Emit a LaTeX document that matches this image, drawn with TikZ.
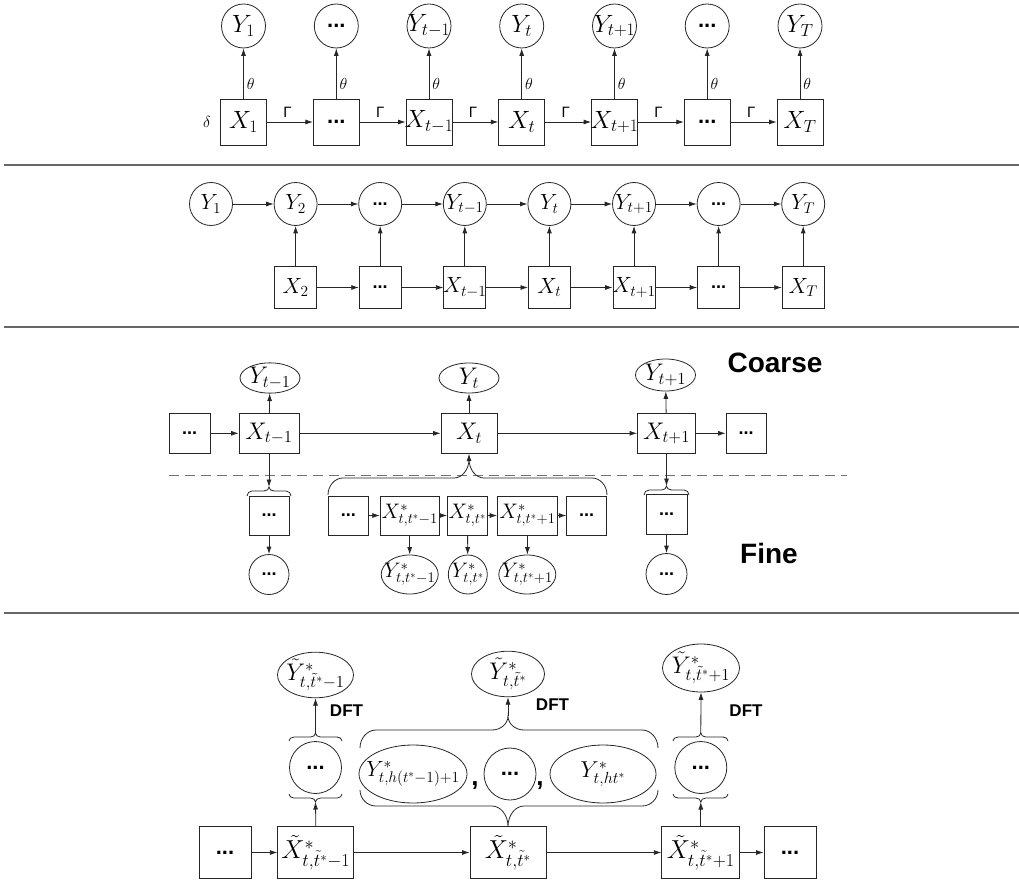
\RequirePackage{fix-cm}
\documentclass[tikz,border=0pt]{standalone}
\usepackage{fontspec}
\newfontfamily\arial{Liberation Sans}
\usetikzlibrary{arrows.meta,shapes.geometric}
\newcommand\dts{{\arial\bfseries ...}}
% brace: x1 x2 xm yb yh yt r
\newcommand\mybrace[7]{%
  \draw[brc] (#1,#4) .. controls (#1,{#4+0.55*(#5-#4)}) and ({#1+0.45*#7},#5) .. ({#1+#7},#5)
   -- ({#3-#7},#5) .. controls ({#3-0.45*#7},#5) and (#3,{#5+0.45*(#6-#5)}) .. (#3,#6)
   .. controls (#3,{#5+0.45*(#6-#5)}) and ({#3+0.45*#7},#5) .. ({#3+#7},#5)
   -- ({#2-#7},#5) .. controls ({#2-0.45*#7},#5) and (#2,{#4+0.55*(#5-#4)}) .. (#2,#4);}
\tikzset{
  base/.style={draw=black!85, line width=0.8pt, inner sep=0pt,
     execute at begin node={\hbox to 0pt\bgroup\hss},
     execute at end node={\hss\egroup}},
  circ/.style={base, circle},
  elli/.style={base, ellipse},
  sq/.style={base, rectangle},
  arr/.style={-{Latex[length=7.5pt,width=5pt]}, line width=0.8pt, draw=black!85},
  brc/.style={line width=0.8pt, draw=black!85},
  fa/.style={font=\fontsize{25}{27}\selectfont},
  fb/.style={font=\fontsize{22}{24}\selectfont},
  fc/.style={font=\fontsize{24}{26}\selectfont},
  ff/.style={font=\fontsize{21}{23}\selectfont},
  fd/.style={font=\fontsize{26}{28}\selectfont},
  dta/.style={font=\fontsize{22}{24}\selectfont},
  dtb/.style={font=\fontsize{18}{20}\selectfont},
  lbl/.style={font=\fontsize{16}{18}\selectfont, inner sep=1pt},
  sepline/.style={draw=black!60, line width=1.5pt},
  big/.style={font=\arial\bfseries\fontsize{28}{30}\selectfont},
  dft/.style={font=\arial\bfseries\fontsize{17}{19}\selectfont},
}
\begin{document}
\begin{tikzpicture}[x=1pt,y=-1pt]
\useasboundingbox (0,0) rectangle (1019,882);
% ---------------- section 1 ----------------
\begin{scope}[every node/.append style={fa}]
\node[circ,minimum size=44pt] (a1) at (243.5,26) {$Y_1$};
\node[circ,minimum size=44pt,dta] (a2) at (336.3,26) {\dts};
\node[circ,minimum size=44pt] (a3) at (429,26) {$Y_{t-1}$};
\node[circ,minimum size=44pt] (a4) at (521.7,26) {$Y_t$};
\node[circ,minimum size=44pt] (a5) at (614.5,26) {$Y_{t+1}$};
\node[circ,minimum size=44pt,dta] (a6) at (707.2,26) {\dts};
\node[circ,minimum size=44pt] (a7) at (800,26) {$Y_T$};
\node[sq,minimum size=46pt] (b1) at (243.5,122) {$X_1$};
\node[sq,minimum size=46pt,dta] (b2) at (336.3,122) {\dts};
\node[sq,minimum size=46pt] (b3) at (429,122) {$X_{t-1}$};
\node[sq,minimum size=46pt] (b4) at (521.7,122) {$X_t$};
\node[sq,minimum size=46pt] (b5) at (614.5,122) {$X_{t+1}$};
\node[sq,minimum size=46pt,dta] (b6) at (707.2,122) {\dts};
\node[sq,minimum size=46pt] (b7) at (800,122) {$X_T$};
\end{scope}
\node[lbl] (delta) at (207,122) {$\delta$};
\foreach \i in {1,...,7}{
  \draw[arr] (b\i) -- node[lbl,right=2pt,pos=0.3] {$\theta$} (a\i);
}
\foreach \i/\j in {1/2,2/3,3/4,4/5,5/6,6/7}{
  \draw[arr] (b\i) -- node[lbl,above=3pt,pos=0.45,font=\arial\fontsize{15}{17}\selectfont] {Γ} (b\j);
}
\draw[sepline] (4,165) -- (1019,165);
% ---------------- section 2 ----------------
\begin{scope}[every node/.append style={fb}]
\node[circ,minimum size=43pt] (c1) at (211,204) {$Y_1$};
\node[circ,minimum size=43pt] (c2) at (295.6,204) {$Y_2$};
\node[circ,minimum size=43pt,dtb] (c3) at (380.2,204) {\dts};
\node[circ,minimum size=43pt] (c4) at (464.8,204) {$Y_{t-1}$};
\node[circ,minimum size=43pt] (c5) at (549.4,204) {$Y_t$};
\node[circ,minimum size=43pt] (c6) at (634,204) {$Y_{t+1}$};
\node[circ,minimum size=43pt,dtb] (c7) at (718.6,204) {\dts};
\node[circ,minimum size=43pt] (c8) at (803.2,204) {$Y_T$};
\node[sq,minimum size=42pt] (d2) at (295.6,287.5) {$X_2$};
\node[sq,minimum size=42pt,dtb] (d3) at (380.2,287.5) {\dts};
\node[sq,minimum size=42pt] (d4) at (464.8,287.5) {$X_{t-1}$};
\node[sq,minimum size=42pt] (d5) at (549.4,287.5) {$X_t$};
\node[sq,minimum size=42pt] (d6) at (634,287.5) {$X_{t+1}$};
\node[sq,minimum size=42pt,dtb] (d7) at (718.6,287.5) {\dts};
\node[sq,minimum size=42pt] (d8) at (803.2,287.5) {$X_T$};
\end{scope}
\foreach \i/\j in {1/2,2/3,3/4,4/5,5/6,6/7,7/8}{ \draw[arr] (c\i) -- (c\j); }
\foreach \i/\j in {2/3,3/4,4/5,5/6,6/7,7/8}{ \draw[arr] (d\i) -- (d\j); }
\foreach \i in {2,...,8}{ \draw[arr] (d\i) -- (c\i); }
\draw[sepline] (4,327) -- (1019,327);
% ---------------- section 3 ----------------
\begin{scope}[every node/.append style={fc}]
\node[sq,minimum width=41pt,minimum height=40pt,dtb] (e0) at (189.7,433.3) {\dts};
\node[sq,minimum width=60pt,minimum height=40pt] (e1) at (269,433.3) {$X_{t-1}$};
\node[sq,minimum width=56pt,minimum height=40pt] (e2) at (469,433.3) {$X_t$};
\node[sq,minimum width=58pt,minimum height=40pt] (e3) at (666.5,433.3) {$X_{t+1}$};
\node[sq,minimum width=40pt,minimum height=40pt,dtb] (e4) at (746,433.3) {\dts};
\node[elli,minimum width=60pt,minimum height=30pt] (g1) at (270,378) {$Y_{t-1}$};
\node[elli,minimum width=60pt,minimum height=30pt] (g2) at (469,378) {$Y_t$};
\node[elli,minimum width=60pt,minimum height=32pt] (g3) at (665.5,375) {$Y_{t+1}$};
\end{scope}
\node[big] (coarse) at (775,363) {Coarse};
\node[big] (fine) at (769,553) {Fine};
\draw[arr] (e0) -- (e1);
\draw[arr] (e1) -- (e2);
\draw[arr] (e2) -- (e3);
\draw[arr] (e3) -- (e4);
\draw[arr] (e1) -- (g1);
\draw[arr] (e2) -- (g2);
\draw[arr] (e3) -- (g3);
\draw[draw=black!55, line width=1pt, dash pattern=on 10pt off 6pt] (169,475.7) -- (847,475.7);
% fine level
\begin{scope}[every node/.append style={ff}]
\node[sq,minimum width=40pt,minimum height=39pt,dtb] (h0) at (348.3,515.5) {\dts};
\node[sq,minimum width=59pt,minimum height=39pt] (h1) at (409.7,515.5) {$X^*_{t,t^*-1}$};
\node[sq,minimum width=40pt,minimum height=39pt] (h2) at (467.5,515.5) {$X^*_{t,t^*}$};
\node[sq,minimum width=60pt,minimum height=39pt] (h3) at (527.5,515.5) {$X^*_{t,t^*+1}$};
\node[sq,minimum width=40pt,minimum height=39pt,dtb] (h4) at (586.7,515.5) {\dts};
\node[elli,minimum width=57pt,minimum height=39pt] (k1) at (409.7,574.5) {$Y^*_{t,t^*-1}$};
\node[elli,minimum width=39pt,minimum height=39pt] (k2) at (467.8,574.5) {$Y^*_{t,t^*}$};
\node[elli,minimum width=57pt,minimum height=39pt] (k3) at (527.3,574.5) {$Y^*_{t,t^*+1}$};
\node[sq,minimum width=40pt,minimum height=39pt,dtb] (l1) at (269,515.5) {\dts};
\node[circ,minimum size=40pt,dtb] (m1) at (269,574.5) {\dts};
\node[sq,minimum width=41pt,minimum height=40pt,dtb] (l2) at (666.5,514.5) {\dts};
\node[circ,minimum size=41pt,dtb] (m2) at (666.5,574) {\dts};
\end{scope}
\foreach \i/\j in {0/1,1/2,2/3,3/4}{ \draw[arr] (h\i) -- (h\j); }
\foreach \i in {1,2,3}{ \draw[arr] (h\i) -- (k\i); }
\draw[arr] (l1) -- (m1);
\draw[arr] (l2) -- (m2);
% braces section 3
\mybrace{328}{607}{469}{495}{478}{459}{15}
\coordinate (bt3) at (469,459);
\draw[arr] (bt3) -- (e2.south);
\mybrace{247}{291}{269}{496}{491}{487}{5}
\coordinate (bl3) at (269,487);
\draw[arr] (e1.south) -- (bl3);
\mybrace{644}{689}{666.5}{495}{490}{486}{5}
\coordinate (br3) at (666.5,486);
\draw[arr] (e3.south) -- (br3);
\draw[sepline] (4,613) -- (1019,613);
% ---------------- section 4 ----------------
\begin{scope}[every node/.append style={fd}]
\node[sq,minimum width=52pt,minimum height=52pt,dta] (p0) at (225,852.5) {\dts};
\node[sq,minimum width=76pt,minimum height=52pt] (p1) at (315.8,852.5) {$\tilde{X}^*_{t,\tilde{t}^*-1}$};
\node[sq,minimum width=76pt,minimum height=52pt] (p2) at (508,852.5) {$\tilde{X}^*_{t,\tilde{t}^*}$};
\node[sq,minimum width=78pt,minimum height=52pt] (p3) at (700.8,852.5) {$\tilde{X}^*_{t,\tilde{t}^*+1}$};
\node[sq,minimum width=52pt,minimum height=52pt,dta] (p4) at (790,852.5) {\dts};
\node[elli,minimum width=76pt,minimum height=44pt,font=\fontsize{24}{26}\selectfont] (q1) at (315.5,675) {$\tilde{Y}^*_{t,\tilde{t}^*-1}$};
\node[elli,minimum width=73pt,minimum height=44pt,font=\fontsize{24}{26}\selectfont] (q2) at (508,674) {$\tilde{Y}^*_{t,\tilde{t}^*}$};
\node[elli,minimum width=77pt,minimum height=48pt,font=\fontsize{24}{26}\selectfont] (q3) at (701,668) {$\tilde{Y}^*_{t,\tilde{t}^*+1}$};
\node[circ,minimum size=52pt,dta] (r1) at (315.5,767.5) {\dts};
\node[circ,minimum size=52pt,dta] (r3) at (700.8,767.5) {\dts};
\node[elli,minimum width=108pt,minimum height=58pt,font=\fontsize{22}{24}\selectfont] (s1) at (413,774) {$Y^*_{t,h(t^*-1)+1}$};
\node[circ,minimum size=52pt,dta] (s2) at (510,774) {\dts};
\node[elli,minimum width=106pt,minimum height=58pt,font=\fontsize{23}{25}\selectfont] (s3) at (603,774) {$Y^*_{t,ht^*}$};
\end{scope}
\node[font=\arial\bfseries\fontsize{26}{28}\selectfont, inner sep=0pt] (cm1) at (475,786) {,};
\node[font=\arial\bfseries\fontsize{26}{28}\selectfont, inner sep=0pt] (cm2) at (540,786) {,};
\node[dft] (dft1) at (346.5,710.7) {DFT};
\node[dft] (dft2) at (552.5,705) {DFT};
\node[dft] (dft3) at (746,710.7) {DFT};
\draw[arr] (p0) -- (p1);
\draw[arr] (p1) -- (p2);
\draw[arr] (p2) -- (p3);
\draw[arr] (p3) -- (p4);
% small braces left
\mybrace{289}{342}{315.5}{741}{737}{733}{5}
\mybrace{289}{342}{315.5}{794}{798}{802}{5}
\coordinate (t1) at (315.5,733);
\coordinate (u1) at (315.5,802);
\draw[arr] (t1) -- (q1.south);
\draw[arr] (p1.north) -- (u1);
% small braces right
\mybrace{673}{728}{700.8}{741}{737}{733}{5}
\mybrace{673}{728}{700.8}{794}{798}{802}{5}
\coordinate (t3) at (700.8,733);
\coordinate (u3) at (700.8,802);
\draw[arr] (t3) -- (q3.south);
\draw[arr] (p3.north) -- (u3);
% big braces middle
\mybrace{360}{658}{508}{748}{730}{716}{16}
\mybrace{360}{658}{508}{790}{806}{826.5}{16}
\coordinate (t2) at (508,716);
\draw[arr] (t2) -- (q2.south);
\end{tikzpicture}
\end{document}
